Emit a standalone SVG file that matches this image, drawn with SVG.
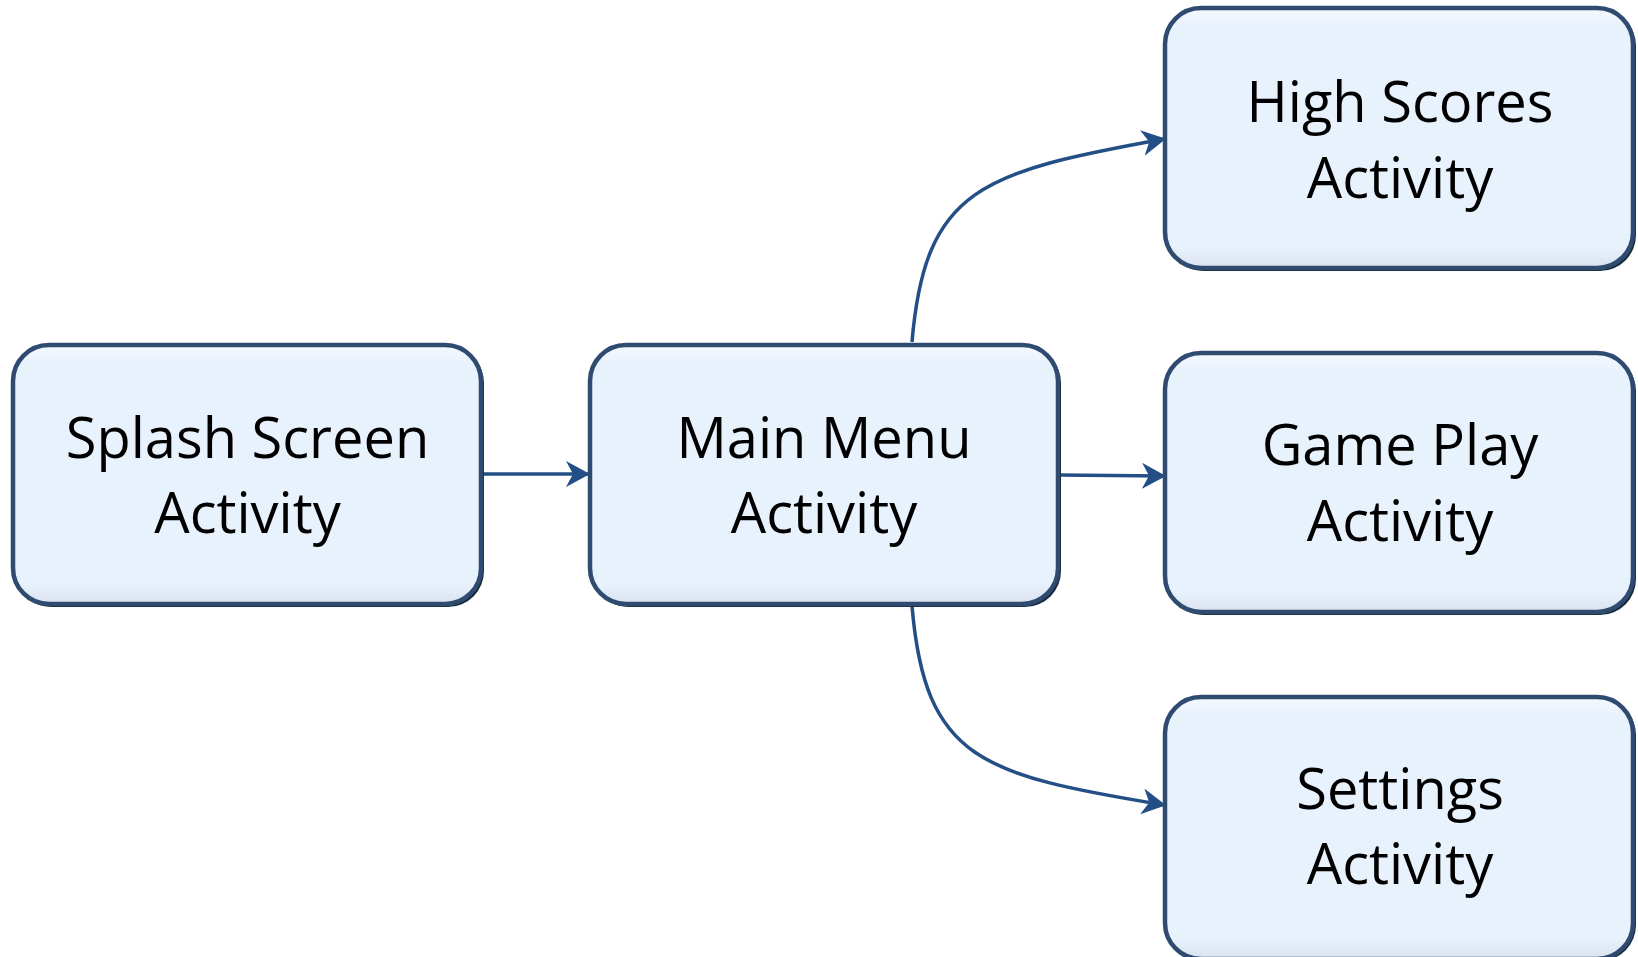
<svg xmlns="http://www.w3.org/2000/svg" width="1638" height="957" viewBox="0 0 1638 957">
  <defs>
    <linearGradient id="boxFill" x1="0" y1="0" x2="0" y2="1">
      <stop offset="0" stop-color="#f6f9fe"/>
      <stop offset="0.07" stop-color="#e8f2fd"/>
      <stop offset="0.92" stop-color="#e8f2fd"/>
      <stop offset="1" stop-color="#d9e2ee"/>
    </linearGradient>
    <marker id="arrow" viewBox="0 0 24 26" refX="22" refY="13" markerWidth="24" markerHeight="26" markerUnits="userSpaceOnUse" orient="auto">
      <path d="M0,0 L24,13 L0,26 L7,13 Z" fill="#234f86"/>
    </marker>
  </defs>
  <style>
    .shadow { fill: #1a2a3d; }
    .box { fill: url(#boxFill); stroke: #2f4b70; stroke-width: 4.5; }
    .label { font-family: "Open Sans", "Liberation Sans", sans-serif; font-size: 56px; fill: #000; text-anchor: middle; }
    .conn { fill: none; stroke: #234f86; stroke-width: 3.5; marker-end: url(#arrow); }
  </style>
  <rect width="1638" height="957" fill="#ffffff"/>

  <g id="connectors">
    <path class="conn" d="M482,474 L588,474"/>
    <path class="conn" d="M1058,475 L1164,476"/>
    <path class="conn" d="M912,342 C925,188 982,172 1164,139"/>
    <path class="conn" d="M912,606 C925,760 982,775 1164,805"/>
  </g>

  <g id="splash">
    <rect class="shadow" x="15" y="347" width="469" height="260" rx="36"/>
    <rect class="box" x="13" y="345" width="468" height="259" rx="36"/>
    <text class="label" x="247.5" y="458">Splash Screen</text>
    <text class="label" x="247.5" y="533">Activity</text>
  </g>

  <g id="main-menu">
    <rect class="shadow" x="592" y="347" width="469" height="260" rx="36"/>
    <rect class="box" x="590" y="345" width="468" height="259" rx="36"/>
    <text class="label" x="824" y="458">Main Menu</text>
    <text class="label" x="824" y="533">Activity</text>
  </g>

  <g id="high-scores">
    <rect class="shadow" x="1167" y="10" width="469" height="261" rx="36"/>
    <rect class="box" x="1165" y="8" width="468" height="260" rx="36"/>
    <text class="label" x="1400" y="122">High Scores</text>
    <text class="label" x="1400" y="198">Activity</text>
  </g>

  <g id="game-play">
    <rect class="shadow" x="1167" y="355" width="469" height="260" rx="36"/>
    <rect class="box" x="1165" y="353" width="468" height="259" rx="36"/>
    <text class="label" x="1400" y="465">Game Play</text>
    <text class="label" x="1400" y="541">Activity</text>
  </g>

  <g id="settings">
    <rect class="shadow" x="1167" y="699" width="469" height="262" rx="36"/>
    <rect class="box" x="1165" y="697" width="468" height="262" rx="36"/>
    <text class="label" x="1400" y="809">Settings</text>
    <text class="label" x="1400" y="884">Activity</text>
  </g>
</svg>
